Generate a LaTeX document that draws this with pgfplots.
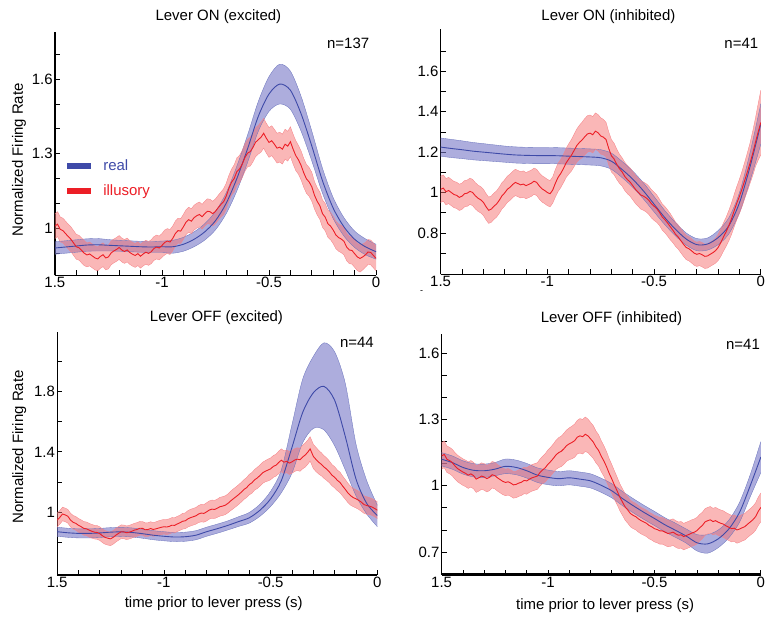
\documentclass[border=0pt]{standalone}
\usepackage{pgfplots}
\pgfplotsset{compat=1.18}
\usepackage{pgfplotstable}
\usepgfplotslibrary{fillbetween}
\usepackage{fontspec}
\setmainfont{Liberation Sans}
\definecolor{bl}{RGB}{62,74,168}
\definecolor{blfill}{RGB}{118,118,198}
\definecolor{rd}{RGB}{236,30,38}
\definecolor{rdfill}{RGB}{246,112,112}

% ---------- Panel 1: Lever ON (excited) ----------
\pgfplotstableread{
x m lo hi
-1.50 0.920 0.895 0.945
-1.45 0.924 0.899 0.949
-1.40 0.928 0.903 0.953
-1.35 0.932 0.907 0.957
-1.30 0.933 0.908 0.958
-1.25 0.931 0.908 0.954
-1.20 0.929 0.907 0.951
-1.15 0.927 0.905 0.949
-1.10 0.925 0.903 0.947
-1.05 0.924 0.902 0.946
-1.00 0.925 0.902 0.948
-0.95 0.925 0.899 0.951
-0.90 0.935 0.907 0.963
-0.85 0.955 0.925 0.985
-0.80 0.985 0.952 1.018
-0.75 1.030 0.993 1.067
-0.70 1.100 1.058 1.142
-0.65 1.200 1.150 1.250
-0.60 1.320 1.265 1.375
-0.55 1.450 1.390 1.510
-0.50 1.540 1.470 1.610
-0.45 1.580 1.500 1.660
-0.40 1.555 1.478 1.632
-0.35 1.460 1.390 1.530
-0.30 1.330 1.270 1.390
-0.25 1.190 1.140 1.240
-0.20 1.080 1.038 1.122
-0.15 1.005 0.968 1.042
-0.10 0.955 0.922 0.988
-0.05 0.925 0.893 0.957
0.00 0.905 0.875 0.935
}\PoneB
\pgfplotstableread{
x m e
-1.5000 1.008 0.050
-1.4875 1.016 0.050
-1.4750 0.995 0.050
-1.4625 0.990 0.050
-1.4500 0.978 0.050
-1.4375 0.966 0.050
-1.4250 0.955 0.050
-1.4125 0.940 0.050
-1.4000 0.925 0.050
-1.3875 0.921 0.050
-1.3750 0.910 0.050
-1.3625 0.899 0.050
-1.3500 0.892 0.048
-1.3375 0.896 0.048
-1.3250 0.888 0.048
-1.3125 0.880 0.048
-1.3000 0.876 0.048
-1.2875 0.886 0.048
-1.2750 0.893 0.048
-1.2625 0.880 0.048
-1.2500 0.884 0.048
-1.2375 0.900 0.048
-1.2250 0.908 0.048
-1.2125 0.914 0.048
-1.2000 0.922 0.048
-1.1875 0.912 0.048
-1.1750 0.906 0.048
-1.1625 0.912 0.048
-1.1500 0.902 0.048
-1.1375 0.895 0.048
-1.1250 0.890 0.048
-1.1125 0.897 0.048
-1.1000 0.887 0.048
-1.0875 0.896 0.048
-1.0750 0.903 0.048
-1.0625 0.898 0.048
-1.0500 0.905 0.048
-1.0375 0.918 0.048
-1.0250 0.924 0.048
-1.0125 0.920 0.048
-1.0000 0.930 0.048
-0.9875 0.942 0.050
-0.9750 0.948 0.050
-0.9625 0.944 0.050
-0.9500 0.958 0.050
-0.9375 0.978 0.050
-0.9250 0.990 0.050
-0.9125 0.988 0.050
-0.9000 1.005 0.050
-0.8875 1.024 0.050
-0.8750 1.034 0.050
-0.8625 1.028 0.050
-0.8500 1.042 0.050
-0.8375 1.050 0.050
-0.8250 1.055 0.050
-0.8125 1.046 0.050
-0.8000 1.058 0.050
-0.7875 1.068 0.050
-0.7750 1.066 0.050
-0.7625 1.058 0.050
-0.7500 1.068 0.050
-0.7375 1.082 0.050
-0.7250 1.095 0.050
-0.7125 1.106 0.052
-0.7000 1.128 0.052
-0.6875 1.160 0.052
-0.6750 1.185 0.052
-0.6625 1.200 0.055
-0.6500 1.228 0.055
-0.6375 1.238 0.055
-0.6250 1.258 0.055
-0.6125 1.284 0.055
-0.6000 1.302 0.055
-0.5875 1.308 0.058
-0.5750 1.325 0.058
-0.5625 1.346 0.058
-0.5500 1.356 0.058
-0.5375 1.366 0.060
-0.5250 1.382 0.060
-0.5125 1.362 0.060
-0.5000 1.345 0.060
-0.4875 1.352 0.060
-0.4750 1.338 0.060
-0.4625 1.322 0.060
-0.4500 1.326 0.060
-0.4375 1.318 0.060
-0.4250 1.338 0.060
-0.4125 1.330 0.060
-0.4000 1.348 0.060
-0.3875 1.318 0.060
-0.3750 1.292 0.060
-0.3625 1.275 0.058
-0.3500 1.252 0.058
-0.3375 1.222 0.058
-0.3250 1.198 0.058
-0.3125 1.186 0.058
-0.3000 1.166 0.058
-0.2875 1.132 0.055
-0.2750 1.108 0.055
-0.2625 1.090 0.055
-0.2500 1.058 0.055
-0.2375 1.044 0.055
-0.2250 1.018 0.055
-0.2125 1.008 0.055
-0.2000 0.992 0.055
-0.1875 0.972 0.055
-0.1750 0.962 0.055
-0.1625 0.956 0.055
-0.1500 0.947 0.055
-0.1375 0.924 0.055
-0.1250 0.912 0.055
-0.1125 0.910 0.055
-0.1000 0.897 0.055
-0.0875 0.884 0.055
-0.0750 0.878 0.055
-0.0625 0.884 0.052
-0.0500 0.892 0.050
-0.0375 0.904 0.050
-0.0250 0.902 0.050
-0.0125 0.890 0.050
0.0000 0.878 0.050
}\PoneR

% ---------- Panel 2: Lever ON (inhibited) ----------
\pgfplotstableread{
x m lo hi
-1.50 1.225 1.180 1.270
-1.45 1.218 1.173 1.263
-1.40 1.212 1.168 1.256
-1.35 1.205 1.162 1.248
-1.30 1.200 1.158 1.242
-1.25 1.195 1.154 1.236
-1.20 1.190 1.150 1.230
-1.15 1.186 1.146 1.226
-1.10 1.184 1.144 1.224
-1.05 1.183 1.143 1.223
-1.00 1.183 1.143 1.223
-0.95 1.182 1.142 1.222
-0.90 1.180 1.140 1.220
-0.85 1.178 1.138 1.218
-0.80 1.176 1.136 1.216
-0.75 1.172 1.132 1.212
-0.70 1.155 1.115 1.195
-0.65 1.114 1.074 1.154
-0.60 1.066 1.026 1.106
-0.55 1.008 0.968 1.048
-0.50 0.942 0.904 0.980
-0.45 0.876 0.841 0.911
-0.40 0.818 0.785 0.851
-0.35 0.770 0.740 0.800
-0.30 0.742 0.712 0.772
-0.25 0.745 0.715 0.775
-0.20 0.777 0.742 0.812
-0.15 0.835 0.795 0.875
-0.10 0.950 0.900 1.000
-0.05 1.130 1.060 1.200
0.00 1.340 1.240 1.440
}\PtwoB
\pgfplotstableread{
x m e
-1.5000 1.016 0.065
-1.4875 1.022 0.065
-1.4750 1.004 0.065
-1.4625 1.010 0.065
-1.4500 1.000 0.065
-1.4375 0.990 0.065
-1.4250 0.986 0.065
-1.4125 0.976 0.065
-1.4000 0.982 0.065
-1.3875 0.994 0.065
-1.3750 0.997 0.065
-1.3625 1.006 0.065
-1.3500 1.000 0.065
-1.3375 0.984 0.065
-1.3250 0.972 0.065
-1.3125 0.964 0.065
-1.3000 0.952 0.065
-1.2875 0.930 0.065
-1.2750 0.912 0.065
-1.2625 0.918 0.065
-1.2500 0.932 0.065
-1.2375 0.944 0.065
-1.2250 0.962 0.065
-1.2125 0.984 0.065
-1.2000 0.998 0.065
-1.1875 1.016 0.065
-1.1750 1.026 0.065
-1.1625 1.040 0.065
-1.1500 1.050 0.065
-1.1375 1.044 0.065
-1.1250 1.038 0.065
-1.1125 1.042 0.065
-1.1000 1.034 0.065
-1.0875 1.040 0.065
-1.0750 1.046 0.065
-1.0625 1.056 0.065
-1.0500 1.050 0.065
-1.0375 1.032 0.065
-1.0250 1.018 0.065
-1.0125 1.010 0.065
-1.0000 1.000 0.065
-0.9875 0.994 0.065
-0.9750 1.012 0.065
-0.9625 1.046 0.068
-0.9500 1.075 0.070
-0.9375 1.094 0.070
-0.9250 1.118 0.070
-0.9125 1.146 0.072
-0.9000 1.166 0.075
-0.8875 1.184 0.078
-0.8750 1.208 0.080
-0.8625 1.232 0.082
-0.8500 1.248 0.085
-0.8375 1.260 0.088
-0.8250 1.276 0.090
-0.8125 1.290 0.090
-0.8000 1.294 0.090
-0.7875 1.286 0.090
-0.7750 1.304 0.090
-0.7625 1.296 0.090
-0.7500 1.280 0.090
-0.7375 1.274 0.088
-0.7250 1.262 0.085
-0.7125 1.218 0.082
-0.7000 1.182 0.080
-0.6875 1.166 0.078
-0.6750 1.140 0.075
-0.6625 1.118 0.072
-0.6500 1.102 0.070
-0.6375 1.080 0.070
-0.6250 1.064 0.070
-0.6125 1.052 0.070
-0.6000 1.034 0.070
-0.5875 1.016 0.070
-0.5750 1.002 0.070
-0.5625 0.988 0.070
-0.5500 0.982 0.070
-0.5375 0.974 0.070
-0.5250 0.962 0.070
-0.5125 0.944 0.070
-0.5000 0.932 0.070
-0.4875 0.920 0.068
-0.4750 0.902 0.065
-0.4625 0.880 0.065
-0.4500 0.866 0.065
-0.4375 0.850 0.065
-0.4250 0.832 0.065
-0.4125 0.814 0.062
-0.4000 0.794 0.060
-0.3875 0.780 0.060
-0.3750 0.762 0.060
-0.3625 0.744 0.060
-0.3500 0.728 0.060
-0.3375 0.722 0.060
-0.3250 0.712 0.060
-0.3125 0.700 0.060
-0.3000 0.694 0.060
-0.2875 0.698 0.060
-0.2750 0.692 0.060
-0.2625 0.684 0.060
-0.2500 0.686 0.060
-0.2375 0.694 0.060
-0.2250 0.702 0.060
-0.2125 0.712 0.062
-0.2000 0.728 0.065
-0.1875 0.752 0.068
-0.1750 0.780 0.070
-0.1625 0.806 0.072
-0.1500 0.836 0.075
-0.1375 0.870 0.078
-0.1250 0.910 0.080
-0.1125 0.948 0.082
-0.1000 0.982 0.085
-0.0875 1.020 0.088
-0.0750 1.062 0.090
-0.0625 1.104 0.095
-0.0500 1.148 0.100
-0.0375 1.196 0.110
-0.0250 1.250 0.120
-0.0125 1.300 0.140
0.0000 1.347 0.160
}\PtwoR

% ---------- Panel 3: Lever OFF (excited) ----------
\pgfplotstableread{
x m lo hi
-1.50 0.873 0.843 0.903
-1.45 0.866 0.836 0.896
-1.40 0.862 0.832 0.892
-1.35 0.862 0.832 0.892
-1.30 0.865 0.835 0.895
-1.25 0.870 0.840 0.900
-1.20 0.872 0.842 0.902
-1.15 0.868 0.838 0.898
-1.10 0.860 0.830 0.890
-1.05 0.850 0.820 0.880
-1.00 0.843 0.813 0.873
-0.95 0.838 0.808 0.868
-0.90 0.840 0.810 0.870
-0.85 0.850 0.820 0.880
-0.80 0.873 0.843 0.903
-0.75 0.893 0.863 0.923
-0.70 0.915 0.885 0.945
-0.65 0.940 0.908 0.972
-0.60 0.965 0.930 1.000
-0.55 1.015 0.975 1.055
-0.50 1.090 1.040 1.140
-0.45 1.210 1.130 1.280
-0.40 1.430 1.260 1.580
-0.35 1.660 1.460 1.880
-0.30 1.790 1.555 2.030
-0.25 1.832 1.545 2.120
-0.20 1.740 1.440 2.060
-0.15 1.500 1.280 1.850
-0.10 1.220 1.110 1.450
-0.05 1.060 0.990 1.210
0.00 0.980 0.906 1.048
}\PthreeB
\pgfplotstableread{
x m e
-1.5000 0.950 0.045
-1.4875 0.968 0.045
-1.4750 0.990 0.045
-1.4625 0.984 0.045
-1.4500 0.975 0.045
-1.4375 0.950 0.045
-1.4250 0.935 0.045
-1.4125 0.928 0.045
-1.4000 0.915 0.045
-1.3875 0.906 0.045
-1.3750 0.895 0.045
-1.3625 0.892 0.045
-1.3500 0.883 0.045
-1.3375 0.876 0.045
-1.3250 0.870 0.045
-1.3125 0.868 0.045
-1.3000 0.860 0.045
-1.2875 0.846 0.045
-1.2750 0.835 0.045
-1.2625 0.830 0.045
-1.2500 0.826 0.045
-1.2375 0.836 0.045
-1.2250 0.850 0.045
-1.2125 0.862 0.045
-1.2000 0.873 0.045
-1.1875 0.872 0.045
-1.1750 0.866 0.045
-1.1625 0.870 0.045
-1.1500 0.876 0.045
-1.1375 0.884 0.045
-1.1250 0.888 0.045
-1.1125 0.896 0.045
-1.1000 0.895 0.045
-1.0875 0.886 0.045
-1.0750 0.887 0.045
-1.0625 0.894 0.045
-1.0500 0.888 0.045
-1.0375 0.892 0.046
-1.0250 0.897 0.048
-1.0125 0.902 0.048
-1.0000 0.906 0.048
-0.9875 0.904 0.050
-0.9750 0.908 0.050
-0.9625 0.916 0.050
-0.9500 0.915 0.050
-0.9375 0.924 0.050
-0.9250 0.932 0.050
-0.9125 0.942 0.052
-0.9000 0.945 0.052
-0.8875 0.958 0.054
-0.8750 0.966 0.055
-0.8625 0.972 0.055
-0.8500 0.978 0.055
-0.8375 0.990 0.056
-0.8250 0.996 0.058
-0.8125 0.994 0.058
-0.8000 1.004 0.060
-0.7875 1.016 0.060
-0.7750 1.022 0.060
-0.7625 1.020 0.060
-0.7500 1.028 0.060
-0.7375 1.038 0.062
-0.7250 1.042 0.062
-0.7125 1.048 0.062
-0.7000 1.060 0.062
-0.6875 1.076 0.064
-0.6750 1.090 0.065
-0.6625 1.104 0.065
-0.6500 1.118 0.065
-0.6375 1.134 0.065
-0.6250 1.152 0.065
-0.6125 1.164 0.066
-0.6000 1.184 0.068
-0.5875 1.196 0.068
-0.5750 1.216 0.068
-0.5625 1.228 0.070
-0.5500 1.244 0.070
-0.5375 1.262 0.070
-0.5250 1.272 0.070
-0.5125 1.280 0.072
-0.5000 1.288 0.072
-0.4875 1.304 0.072
-0.4750 1.312 0.072
-0.4625 1.330 0.074
-0.4500 1.345 0.075
-0.4375 1.332 0.075
-0.4250 1.338 0.075
-0.4125 1.326 0.075
-0.4000 1.334 0.075
-0.3875 1.346 0.075
-0.3750 1.352 0.075
-0.3625 1.348 0.076
-0.3500 1.366 0.078
-0.3375 1.380 0.080
-0.3250 1.400 0.080
-0.3150 1.420 0.080
-0.3000 1.370 0.080
-0.2875 1.350 0.080
-0.2750 1.332 0.078
-0.2625 1.318 0.076
-0.2500 1.300 0.075
-0.2375 1.286 0.074
-0.2250 1.268 0.072
-0.2125 1.246 0.070
-0.2000 1.232 0.070
-0.1875 1.212 0.068
-0.1750 1.198 0.068
-0.1625 1.174 0.066
-0.1500 1.152 0.065
-0.1375 1.128 0.064
-0.1250 1.110 0.062
-0.1125 1.098 0.060
-0.1000 1.090 0.060
-0.0875 1.080 0.060
-0.0750 1.068 0.060
-0.0625 1.052 0.058
-0.0500 1.046 0.058
-0.0375 1.042 0.056
-0.0250 1.036 0.055
-0.0125 1.026 0.055
0.0000 1.015 0.055
}\PthreeR

% ---------- Panel 4: Lever OFF (inhibited) ----------
\pgfplotstableread{
x m lo hi
-1.50 1.120 1.090 1.150
-1.45 1.105 1.075 1.135
-1.40 1.083 1.053 1.113
-1.35 1.070 1.040 1.100
-1.30 1.068 1.038 1.098
-1.25 1.075 1.045 1.105
-1.20 1.088 1.055 1.121
-1.15 1.083 1.050 1.116
-1.10 1.068 1.035 1.101
-1.05 1.048 1.015 1.081
-1.00 1.038 1.005 1.071
-0.95 1.032 1.000 1.064
-0.90 1.036 1.004 1.068
-0.85 1.030 0.998 1.062
-0.80 1.022 0.990 1.054
-0.75 1.002 0.970 1.034
-0.70 0.977 0.945 1.009
-0.65 0.942 0.910 0.974
-0.60 0.910 0.878 0.942
-0.55 0.880 0.848 0.912
-0.50 0.852 0.820 0.884
-0.45 0.823 0.791 0.855
-0.40 0.798 0.766 0.830
-0.35 0.772 0.740 0.804
-0.30 0.742 0.705 0.779
-0.25 0.737 0.695 0.779
-0.20 0.760 0.720 0.800
-0.15 0.805 0.765 0.845
-0.10 0.880 0.835 0.925
-0.05 1.000 0.950 1.050
0.00 1.130 1.060 1.200
}\PfourB
\pgfplotstableread{
x m e
-1.5000 1.135 0.060
-1.4875 1.142 0.060
-1.4750 1.120 0.060
-1.4625 1.114 0.060
-1.4500 1.105 0.060
-1.4375 1.090 0.060
-1.4250 1.078 0.060
-1.4125 1.070 0.060
-1.4000 1.062 0.060
-1.3875 1.056 0.060
-1.3750 1.048 0.060
-1.3625 1.054 0.060
-1.3500 1.046 0.060
-1.3375 1.030 0.060
-1.3250 1.036 0.060
-1.3125 1.044 0.060
-1.3000 1.040 0.060
-1.2875 1.032 0.060
-1.2750 1.038 0.060
-1.2625 1.050 0.060
-1.2500 1.046 0.060
-1.2375 1.036 0.060
-1.2250 1.028 0.060
-1.2125 1.020 0.060
-1.2000 1.015 0.060
-1.1875 1.018 0.060
-1.1750 1.012 0.060
-1.1625 1.004 0.060
-1.1500 1.006 0.060
-1.1375 1.012 0.060
-1.1250 1.016 0.060
-1.1125 1.024 0.060
-1.1000 1.022 0.060
-1.0875 1.030 0.060
-1.0750 1.036 0.060
-1.0625 1.040 0.060
-1.0500 1.044 0.060
-1.0375 1.060 0.061
-1.0250 1.072 0.062
-1.0125 1.082 0.064
-1.0000 1.098 0.065
-0.9875 1.110 0.065
-0.9750 1.124 0.065
-0.9625 1.140 0.066
-0.9500 1.150 0.068
-0.9375 1.156 0.069
-0.9250 1.168 0.070
-0.9125 1.182 0.071
-0.9000 1.190 0.072
-0.8875 1.196 0.074
-0.8750 1.204 0.075
-0.8625 1.220 0.076
-0.8500 1.226 0.078
-0.8375 1.222 0.078
-0.8250 1.233 0.078
-0.8125 1.226 0.076
-0.8000 1.212 0.075
-0.7875 1.198 0.074
-0.7750 1.176 0.072
-0.7625 1.160 0.071
-0.7500 1.134 0.070
-0.7375 1.112 0.069
-0.7250 1.086 0.068
-0.7125 1.056 0.066
-0.7000 1.030 0.065
-0.6875 1.002 0.064
-0.6750 0.976 0.062
-0.6625 0.948 0.061
-0.6500 0.926 0.060
-0.6375 0.904 0.060
-0.6250 0.890 0.060
-0.6125 0.874 0.060
-0.6000 0.866 0.060
-0.5875 0.860 0.060
-0.5750 0.850 0.060
-0.5625 0.842 0.060
-0.5500 0.836 0.060
-0.5375 0.830 0.060
-0.5250 0.820 0.060
-0.5125 0.814 0.060
-0.5000 0.806 0.060
-0.4875 0.802 0.060
-0.4750 0.796 0.060
-0.4625 0.796 0.060
-0.4500 0.790 0.060
-0.4375 0.784 0.060
-0.4250 0.786 0.060
-0.4125 0.790 0.060
-0.4000 0.782 0.060
-0.3875 0.776 0.060
-0.3750 0.778 0.060
-0.3625 0.770 0.060
-0.3500 0.775 0.060
-0.3375 0.780 0.060
-0.3250 0.786 0.060
-0.3125 0.790 0.060
-0.3000 0.797 0.060
-0.2875 0.810 0.060
-0.2750 0.820 0.060
-0.2625 0.836 0.060
-0.2500 0.842 0.060
-0.2375 0.846 0.060
-0.2250 0.838 0.060
-0.2125 0.842 0.060
-0.2000 0.835 0.060
-0.1875 0.830 0.060
-0.1750 0.826 0.060
-0.1625 0.818 0.060
-0.1500 0.812 0.060
-0.1375 0.806 0.060
-0.1250 0.808 0.060
-0.1125 0.800 0.060
-0.1000 0.804 0.060
-0.0875 0.810 0.060
-0.0750 0.815 0.060
-0.0625 0.826 0.060
-0.0500 0.836 0.060
-0.0375 0.846 0.061
-0.0250 0.860 0.062
-0.0125 0.884 0.064
0.0000 0.902 0.065
}\PfourR

\pgfplotsset{
  panel/.style={
    scale only axis,
    clip mode=individual,
    xmin=-1.5, xmax=0,
    axis x line*=bottom, axis y line*=left,
    axis line style={-, line width=1.3pt, black},
    xtick pos=left, ytick pos=left,
    tick align=inside,
    xtick={-1.5,-1,-0.5,0}, xticklabels={1.5,-1,-0.5,0},
    minor xtick={-1.4,-1.3,-1.2,-1.1,-0.9,-0.8,-0.7,-0.6,-0.4,-0.3,-0.2,-0.1},
    major tick length=5pt, minor tick length=5pt,
    tick style={black, line width=0.8pt},
    xticklabel style={inner sep=2pt},
    yticklabel style={inner sep=2pt},
  },
}

% blue band: table, suffix
\newcommand{\blueband}[2]{%
  \addplot[draw=none, smooth, name path=bh#2, forget plot] table[x=x,y=hi]{#1};
  \addplot[draw=none, smooth, name path=bb#2, forget plot] table[x=x,y=lo]{#1};
  \addplot[blfill, fill opacity=0.6, draw=none, forget plot] fill between[of=bh#2 and bb#2];
  \addplot[bl!75, line width=0.35pt, smooth, forget plot] table[x=x,y=hi]{#1};
  \addplot[bl!75, line width=0.35pt, smooth, forget plot] table[x=x,y=lo]{#1};
}
\newcommand{\redband}[2]{%
  \addplot[draw=none, name path=rh#2, forget plot] table[x=x,y expr=\thisrow{m}+\thisrow{e}]{#1};
  \addplot[draw=none, name path=rb#2, forget plot] table[x=x,y expr=\thisrow{m}-\thisrow{e}]{#1};
  \addplot[rdfill, fill opacity=0.5, draw=none, forget plot] fill between[of=rh#2 and rb#2];
  \addplot[rd!55, line width=0.35pt, forget plot] table[x=x,y expr=\thisrow{m}+\thisrow{e}]{#1};
  \addplot[rd!55, line width=0.35pt, forget plot] table[x=x,y expr=\thisrow{m}-\thisrow{e}]{#1};
}
\newcommand{\meanlines}[2]{%
  \addplot[bl, line width=0.9pt, smooth, forget plot] table[x=x,y=m]{#1};
  \addplot[rd, line width=0.9pt, forget plot] table[x=x,y=m]{#2};
}

\begin{document}
\fontsize{15}{18}\selectfont
\begin{tikzpicture}

% ---- Panel 1 ----
\begin{axis}[panel, at={(55pt,344pt)}, anchor=south west,
  width=322pt, height=244pt,
  ymin=0.81, ymax=1.79,
  ytick={1,1.3,1.6}, yticklabels={1,1.3,1.6},
  minor ytick={0.9,1.1,1.2,1.4,1.5,1.7},
  legend image code/.code={\draw[#1, line width=6pt] (0pt,0pt) -- (24pt,0pt);},
  legend style={at={(axis description cs:0.029,0.396)}, anchor=west,
    draw=none, fill=none, inner sep=0pt, row sep=10pt, column sep=8pt,
    nodes={inner sep=1pt}, legend cell align=left},
]
\blueband{\PoneB}{a}
\redband{\PoneR}{a}
\meanlines{\PoneB}{\PoneR}
\addlegendimage{bl}
\addlegendentry{\textcolor{bl}{real}}
\addlegendimage{rd}
\addlegendentry{\textcolor{rd}{illusory}}
\node at (axis description cs:0.509,1.061) {Lever ON (excited)};
\node at (axis description cs:0.913,0.955) {n=137};
\node[rotate=90] at (axis description cs:-0.112,0.475) {Normalized Firing Rate};
\end{axis}

% ---- Panel 2 ----
\begin{axis}[panel, at={(441.7pt,345pt)}, anchor=south west,
  width=321pt, height=246pt,
  ymin=0.595, ymax=1.81,
  ytick={0.8,1,1.2,1.4,1.6}, yticklabels={0.8,1,1.2,1.4,1.6},
  minor ytick={0.7,0.9,1.1,1.3,1.5,1.7},
]
\blueband{\PtwoB}{b}
\redband{\PtwoR}{b}
\meanlines{\PtwoB}{\PtwoR}
\node at (axis description cs:0.524,1.049) {Lever ON (inhibited)};
\node at (axis description cs:0.939,0.943) {n=41};
\node[font=\fontsize{9}{10}\selectfont] at (axis description cs:-0.059,-0.072) {-};
\end{axis}

% ---- Panel 3 ----
\begin{axis}[panel, at={(57.3pt,44pt)}, anchor=south west,
  width=321pt, height=243pt,
  ymin=0.59, ymax=2.19,
  ytick={1,1.4,1.8}, yticklabels={1,1.4,1.8},
  minor ytick={0.8,1.2,1.6,2.0},
  x axis line style={line width=2pt},
]
\blueband{\PthreeB}{c}
\redband{\PthreeR}{c}
\meanlines{\PthreeB}{\PthreeR}
\node at (axis description cs:0.4975,1.062) {Lever OFF (excited)};
\node at (axis description cs:0.936,0.96) {n=44};
\node[rotate=90] at (axis description cs:-0.118,0.527) {Normalized Firing Rate};
\node at (axis description cs:0.489,-0.119) {time prior to lever press (s)};
\end{axis}

% ---- Panel 4 ----
\begin{axis}[panel, at={(442.7pt,44pt)}, anchor=south west,
  width=320pt, height=241pt,
  ymin=0.598, ymax=1.686,
  ytick={0.7,1,1.3,1.6}, yticklabels={0.7,1,1.3,1.6},
  minor ytick={0.8,0.9,1.1,1.2,1.4,1.5},
  x axis line style={line width=2.2pt},
]
\blueband{\PfourB}{d}
\redband{\PfourR}{d}
\meanlines{\PfourB}{\PfourR}
\node at (axis description cs:0.532,1.066) {Lever OFF (inhibited)};
\node at (axis description cs:0.944,0.958) {n=41};
\node at (axis description cs:0.512,-0.129) {time prior to lever press (s)};
\end{axis}
\path (0,0) rectangle (767pt,620pt);
\end{tikzpicture}
\end{document}
